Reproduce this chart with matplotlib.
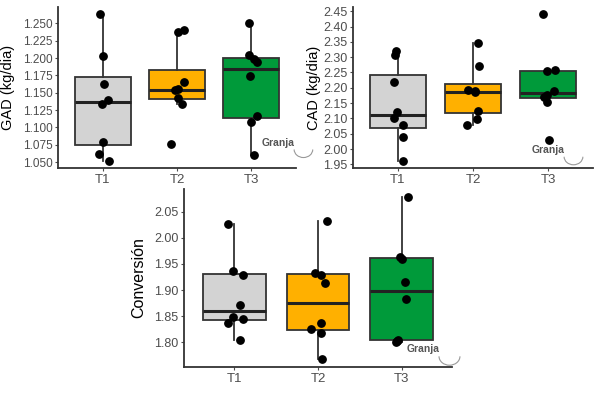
import matplotlib
matplotlib.use('Agg')
import matplotlib.pyplot as plt
from matplotlib.patches import Arc

plt.rcParams['font.family'] = ['Liberation Sans', 'DejaVu Sans']

groups = ['T1', 'T2', 'T3']
box_colors = ['#d3d3d3', '#ffb000', '#009a3a']

# GAD (kg/dia)
gad = [
    [1.263, 1.203, 1.163, 1.139, 1.133, 1.079, 1.062, 1.052],
    [1.241, 1.237, 1.165, 1.155, 1.154, 1.143, 1.133, 1.076],
    [1.250, 1.205, 1.198, 1.194, 1.174, 1.116, 1.108, 1.060],
]
gad_jitter = [
    [-0.04, 0.01, 0.02, 0.07, -0.01, 0.01, -0.05, 0.08],
    [0.09, 0.02, 0.09, 0.01, -0.03, 0.01, 0.07, -0.08],
    [-0.03, -0.03, 0.03, 0.08, -0.02, 0.08, 0.0, 0.03],
]
gad_ticks = [1.050, 1.075, 1.100, 1.125, 1.150, 1.175, 1.200, 1.225, 1.250]

# CAD (kg/dia)
cad = [
    [2.320, 2.308, 2.220, 2.120, 2.100, 2.080, 2.040, 1.962],
    [2.345, 2.270, 2.193, 2.190, 2.185, 2.125, 2.097, 2.078],
    [2.440, 2.258, 2.255, 2.188, 2.175, 2.170, 2.155, 2.028],
]
cad_jitter = [
    [-0.03, -0.04, -0.05, -0.02, -0.06, 0.07, 0.07, 0.07],
    [0.06, 0.08, -0.07, 0.02, 0.03, 0.06, 0.05, -0.08],
    [-0.07, 0.09, -0.01, 0.08, -0.01, -0.05, -0.02, 0.01],
]
cad_ticks = [1.95, 2.00, 2.05, 2.10, 2.15, 2.20, 2.25, 2.30, 2.35, 2.40, 2.45]

# Conversion
conv = [
    [2.026, 1.937, 1.928, 1.872, 1.848, 1.845, 1.837, 1.805],
    [2.033, 1.932, 1.929, 1.913, 1.837, 1.825, 1.817, 1.768],
    [2.078, 1.964, 1.960, 1.915, 1.883, 1.805, 1.803, 1.801],
]
conv_jitter = [
    [-0.08, -0.02, 0.10, 0.07, -0.02, 0.10, -0.07, 0.07],
    [0.11, -0.03, 0.03, 0.08, 0.04, -0.08, 0.04, 0.05],
    [0.08, -0.02, 0.0, 0.04, 0.05, -0.04, -0.06, -0.07],
]
conv_ticks = [1.80, 1.85, 1.90, 1.95, 2.00, 2.05]


def panel(ax, data, jitter, ticks, fmt, ylabel, label_x, label_size, tick_size, logo_x, logo_y):
    bp = ax.boxplot(data, positions=[1, 2, 3], widths=0.75, patch_artist=True,
                    showfliers=False, whis=1.5, showcaps=False,
                    medianprops=dict(color='#222222', linewidth=2.2),
                    whiskerprops=dict(color='#333333', linewidth=1.3),
                    boxprops=dict(edgecolor='#333333', linewidth=1.3))
    for patch, c in zip(bp['boxes'], box_colors):
        patch.set_facecolor(c)
    for i, (vals, jit) in enumerate(zip(data, jitter)):
        xs = [i + 1 + j for j in jit]
        ax.scatter(xs, vals, s=28, color='black', zorder=3)
    lo = min(min(v) for v in data)
    hi = max(max(v) for v in data)
    pad = (hi - lo) * 0.05
    ax.set_ylim(lo - pad, hi + pad)
    ax.set_xlim(0.4, 3.6)
    ax.set_xticks([1, 2, 3])
    ax.set_xticklabels(groups)
    ax.set_yticks(ticks)
    ax.set_yticklabels([fmt % t for t in ticks])
    ax.tick_params(colors='#4d4d4d', labelsize=tick_size, length=2.5, width=0.8, pad=1.5)
    ax.tick_params(axis='x', labelsize=9.5)
    ax.set_ylabel(ylabel, fontsize=label_size, color='black')
    ax.yaxis.set_label_coords(label_x, 0.5)
    for s in ['top', 'right']:
        ax.spines[s].set_visible(False)
    for s in ['left', 'bottom']:
        ax.spines[s].set_color('#333333')
        ax.spines[s].set_linewidth(1.3)
    # watermark
    ax.text(logo_x, logo_y, 'Granja', transform=ax.get_xaxis_transform(),
            ha='right', va='center', fontsize=7.5, fontweight='bold',
            color='#555555', zorder=4)
    ax.add_patch(Arc((logo_x + 0.12, logo_y - 0.04), 0.25, 0.1,
                     transform=ax.get_xaxis_transform(), theta1=180, theta2=360,
                     color='#999999', lw=0.8, clip_on=False))


fig = plt.figure(figsize=(6, 3.94), dpi=100)
ax1 = fig.add_axes([58 / 600, 1 - 168 / 394, 238 / 600, 161 / 394])
ax2 = fig.add_axes([353 / 600, 1 - 168 / 394, 240 / 600, 161 / 394])
ax3 = fig.add_axes([184 / 600, 1 - 367 / 394, 268 / 600, 178 / 394])

panel(ax1, gad, gad_jitter, gad_ticks, '%.3f', 'GAD (kg/dia)', -0.18, 10.5, 8.5, 3.58, 0.155)
panel(ax2, cad, cad_jitter, cad_ticks, '%.2f', 'CAD (kg/dia)', -0.135, 10.5, 9, 3.22, 0.11)
panel(ax3, conv, conv_jitter, conv_ticks, '%.2f', 'Conversión', -0.14, 11.5, 9, 3.45, 0.10)

fig.savefig('out.png', dpi=100, facecolor='white')
